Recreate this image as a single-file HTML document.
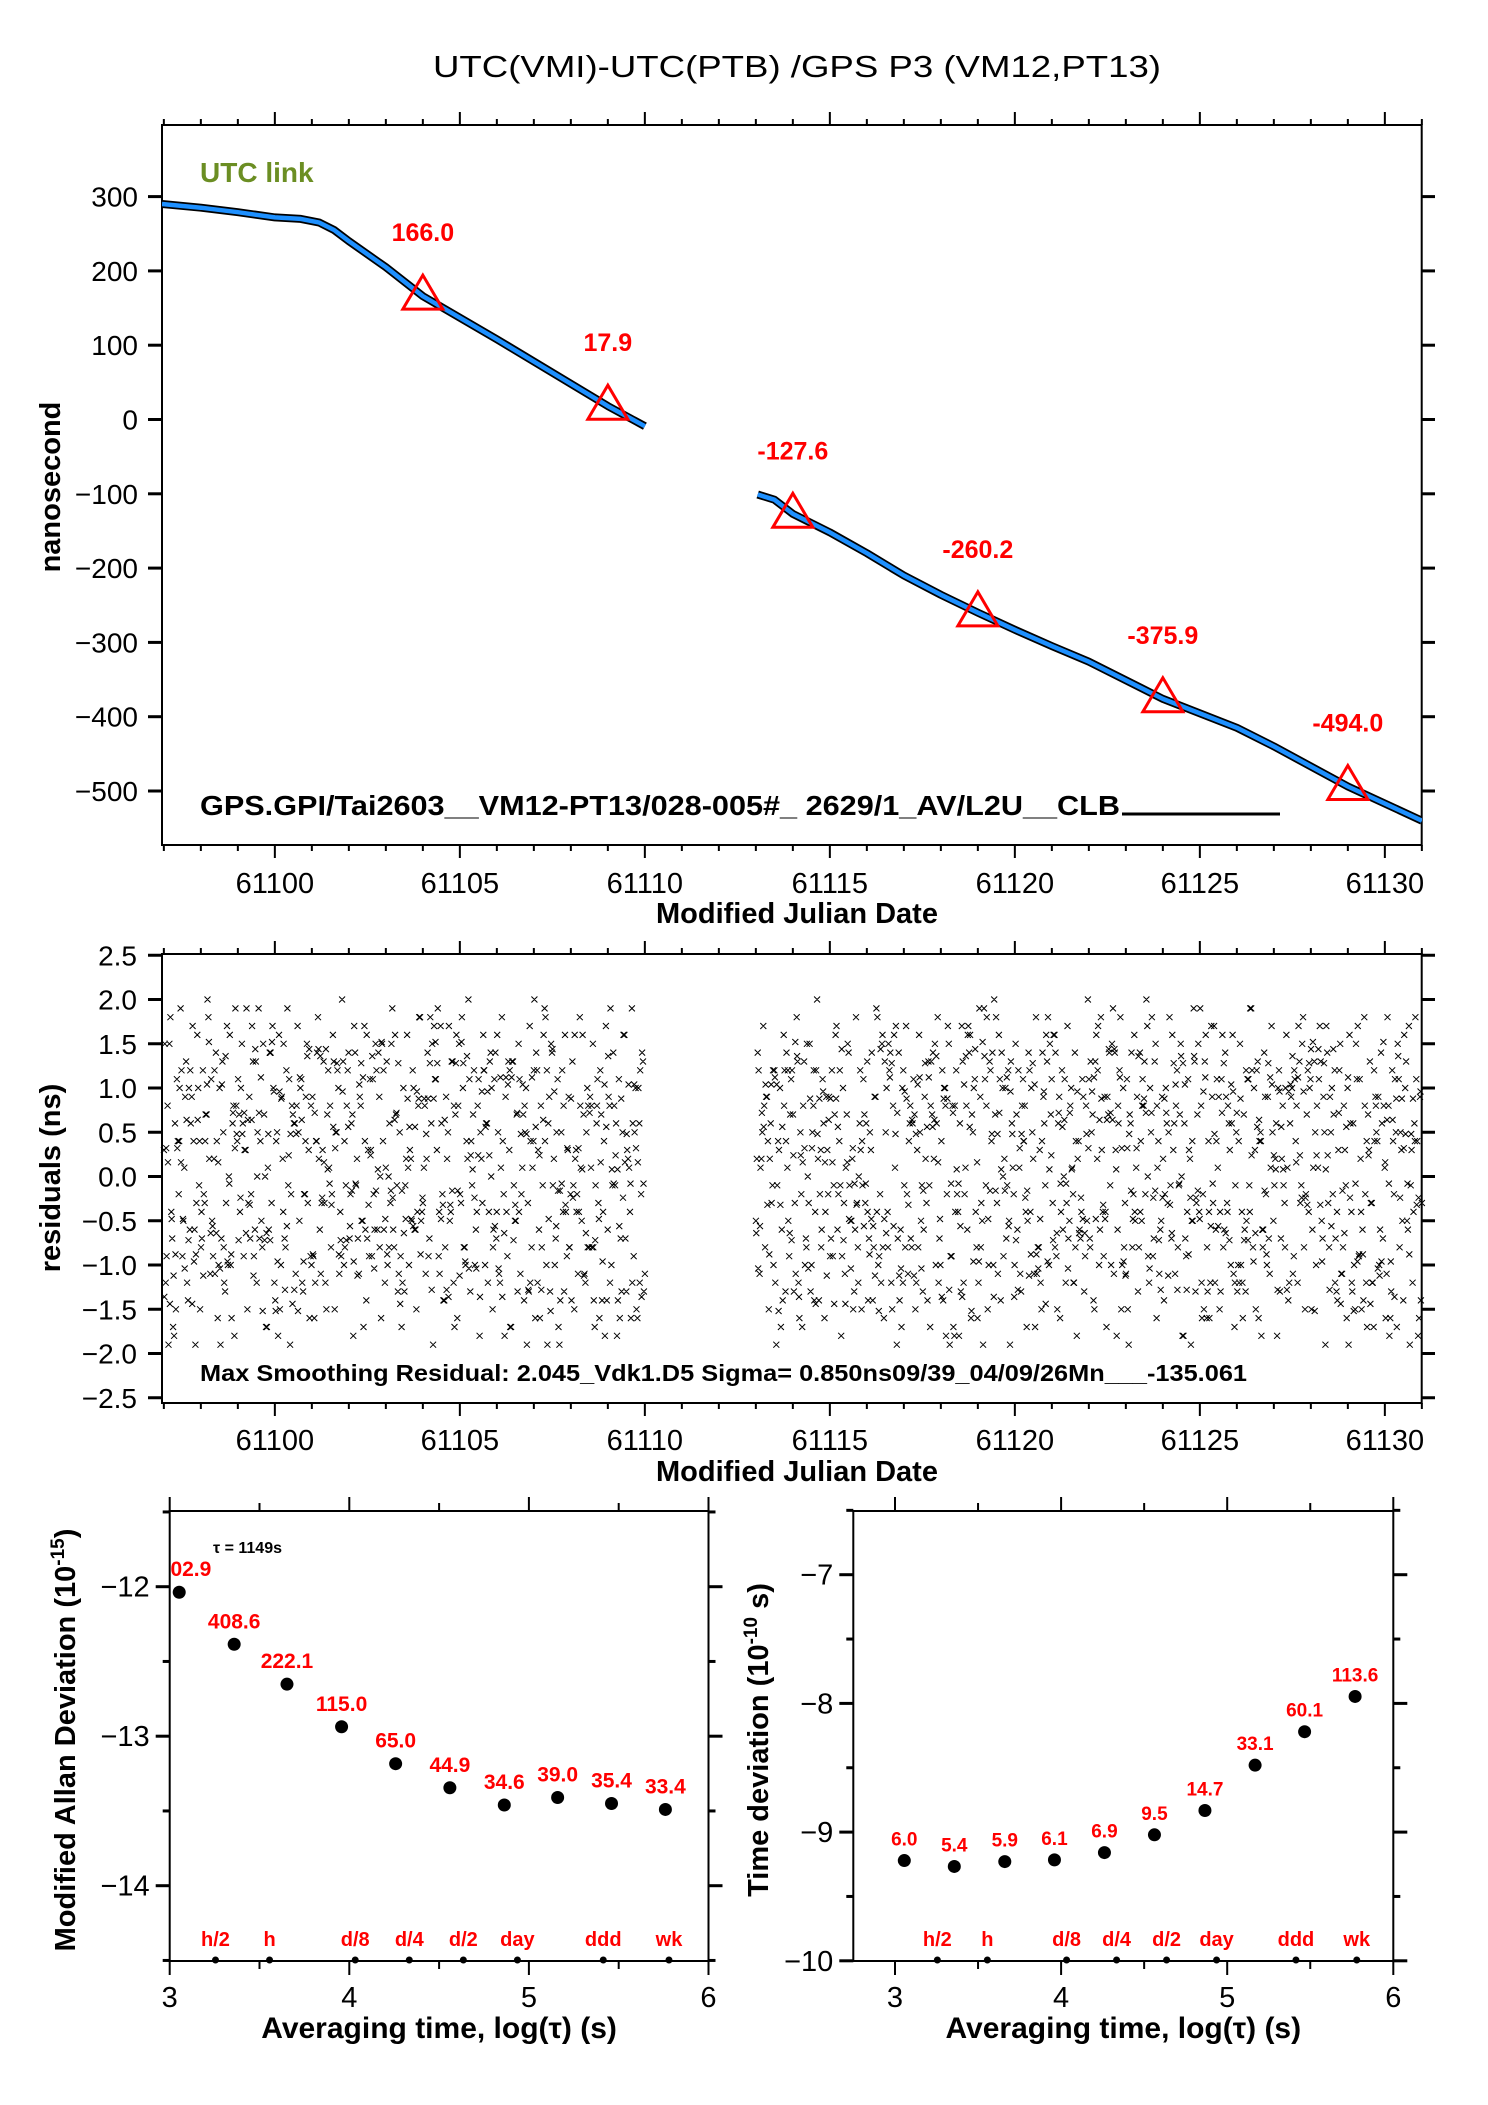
<!DOCTYPE html>
<html><head><meta charset="utf-8">
<style>
html,body{margin:0;padding:0;background:#fff;}
svg{display:block;font-family:"Liberation Sans",Arial,sans-serif;}
</style></head>
<body>
<svg id="chart" width="1488" height="2105" viewBox="0 0 1488 2105" xmlns="http://www.w3.org/2000/svg">
<defs>
<clipPath id="clipTop"><rect x="162" y="125" width="1260" height="720"/></clipPath>
<clipPath id="clipA"><rect x="170" y="1511" width="539" height="450"/></clipPath>
</defs>
<rect x="0" y="0" width="1488" height="2105" fill="#fff"/>
<text x="433" y="77" font-size="31" textLength="728" lengthAdjust="spacingAndGlyphs">UTC(VMI)-UTC(PTB)  /GPS  P3  (VM12,PT13)</text>
<g id="gTop"></g>
<g id="gMid"></g>
<g id="gA"></g>
<g id="gB"></g>
</svg>
<script>
// ---- top panel data ----
const seg1Mjd = [61096.95,61098,61099,61100,61100.7,61101.2,61101.6,61102,61103,61104,61106,61108,61109,61110];
const seg1Val = [290,285,279,272,270,265,255,240,205,166,108,48,18,-9];
const seg2Mjd = [61113.05,61113.5,61114,61115,61116,61117,61118,61119,61120,61121,61122,61124,61126,61127,61129,61131];
const seg2Val = [-101,-108,-127,-152,-180,-210,-236,-260,-283,-305,-326,-376,-415,-440,-494,-540];
const markMjd = [61104,61109,61114,61119,61124,61129];
const markVal = [166.0,17.9,-127.6,-260.2,-375.9,-494.0];
const yTicksTop = [300,200,100,0,-100,-200,-300,-400,-500];
const xTicksMjd = [61100,61105,61110,61115,61120,61125,61130];
// ---- residual data (tenths of ns) ----
const resStart1 = 61097.0, resEnd1 = 61110.0, resStart2 = 61113.0, resEnd2 = 61131.0;
const res1 = [3,-12,8,15,-4,-17,6,11,-2,19,-9,1,13,-14,-6,9,4,-19,16,-1,
-8,12,-3,7,18,-11,-5,2,14,-16,10,-7,5,-13,17,0,-10,6,-18,8,
11,-4,15,-9,3,-15,9,-2,13,-6,-12,19,4,-8,7,-17,1,14,-3,10,
-14,5,16,-10,2,-7,12,-1,-19,8,6,-11,17,-5,11,-13,-2,15,3,-9,
9,-16,4,18,-6,-3,13,-12,7,1,-8,16,-15,5,10,-4,20,-10,-1,12,
-7,6,-18,14,2,-11,8,-5,17,-14,3,11,-9,-2,15,-6,9,-16,4,-12,
13,0,-3,19,-8,7,-13,5,-17,10,-1,16,-10,2,12,-6,-15,8,18,-4,
1,-11,14,-7,6,-19,11,3,-9,17,-2,-14,9,5,-5,13,-12,7,-16,15,
-3,10,-8,4,20,-13,-1,12,-6,8,-18,2,16,-10,6,-4,14,-15,11,-7,
5,-12,18,-2,9,-9,3,-17,13,-5,7,15,-11,1,-14,10,-3,17,-8,4,
-16,12,-6,8,-1,19,-10,6,-13,14,2,-7,11,-19,5,-4,16,-9,9,-2,
13,-15,3,-11,18,-5,7,-12,10,-8,1,15,-17,6,-3,12,-14,4,17,-6,
8,-10,14,-1,-18,11,-7,5,16,-13,2,-4,19,-9,10,-16,6,-2,13,-11];
const res2 = [-5,14,-11,2,17,-8,9,-15,6,-1,12,-19,4,10,-6,16,-13,1,-9,11,
7,-3,18,-12,5,-17,13,-7,0,15,-10,8,-4,20,-14,3,11,-16,9,-2,
-9,12,-1,16,-6,4,-18,10,-11,7,14,-5,2,-13,18,-8,6,-15,11,-3,
13,-7,3,-14,9,19,-10,-2,15,-16,5,-4,12,-12,8,1,-19,14,-6,10,
-1,17,-11,6,-8,11,-15,3,16,-5,-13,9,-3,13,-17,7,2,-10,18,-7,
4,-14,10,-2,15,-9,8,-18,12,-4,6,17,-12,1,-6,14,-16,5,11,-8,
-12,9,-5,19,-1,-15,13,4,-10,7,-3,16,-14,10,2,-7,12,-19,6,-2,
15,-6,1,-13,11,8,-17,14,-4,5,-11,18,-8,3,-15,9,-1,13,-10,7,
-3,16,-9,6,-16,12,0,-12,17,-5,10,-2,14,-18,4,-7,11,-13,8,20,
-7,5,-14,13,2,-10,18,-4,9,-17,7,-1,15,-11,3,-6,12,-15,10,-3,
11,-19,6,-8,16,1,-13,14,-5,8,-2,17,-12,5,-9,13,-16,4,-6,9,
-14,10,-3,18,-7,3,-11,12,-1,15,-18,6,-9,11,2,-5,19,-13,7,-4,
8,-2,13,-16,4,-12,9,17,-6,1,-15,11,-8,14,-3,6,-10,16,-17,5,
-10,15,-4,7,-13,11,-1,19,-8,3,12,-16,5,-6,14,-2,9,-11,17,-5,
2,-18,12,-7,8,-3,16,-14,6,10,-9,4,-12,13,-1,18,-15,7,-4,11,
-6,13,-10,1,17,-5,9,-19,14,-8,5,-2,12,-13,3,15,-11,8,-1,10,
16,-4,6,-15,11,-9,2,-6,18,-12,7,13,-3,-17,9,4,-10,14,-7,1,
-11,8,-16,12,-2,5,15,-8,3,-14,10,-5,17,-1,-12,6,11,-18,9,-3];
const yTicksMid = [2.5,2.0,1.5,1.0,0.5,0.0,-0.5,-1.0,-1.5,-2.0,-2.5];
// ---- MDEV data ----
const mdevLogTau = [3.053,3.359,3.653,3.957,4.258,4.560,4.863,5.160,5.460,5.760];
const mdevVal = [-12.037,-12.385,-12.652,-12.937,-13.184,-13.345,-13.46,-13.41,-13.45,-13.49];
const mdevLbl = ["1002.9","408.6","222.1","115.0","65.0","44.9","34.6","39.0","35.4","33.4"];
const yTicksA = [-12,-13,-14];
// ---- TDEV data ----
const tdevLogTau = [3.056,3.357,3.661,3.960,4.261,4.562,4.866,5.168,5.466,5.770];
const tdevVal = [-9.221,-9.267,-9.229,-9.216,-9.159,-9.021,-8.832,-8.48,-8.22,-7.946];
const tdevLbl = ["6.0","5.4","5.9","6.1","6.9","9.5","14.7","33.1","60.1","113.6"];
const yTicksB = [-7,-8,-9,-10];
// ---- shared ----
const tauMarkLog = [3.255,3.556,4.033,4.334,4.635,4.936,5.414,5.780];
const tauMarkLbl = ["h/2","h","d/8","d/4","d/2","day","ddd","wk"];
const xTicksLog = [3,4,5,6];

const NS="http://www.w3.org/2000/svg";
function mk(parent,tag,attrs,txt){const e=document.createElementNS(NS,tag);for(const k in attrs)e.setAttribute(k,attrs[k]);if(txt!==undefined)e.textContent=txt;parent.appendChild(e);return e;}
const M="\u2212";
function fmt(v,d){const s=Math.abs(v).toFixed(d);return (v<0?M:"")+s;}

const xT=m=>162+(m-61096.95)*37;
const yT=v=>419.5-v*0.743;
const yM=v=>1176.5-v*88.5;
const xA=l=>169.7+(l-3)*179.6;
const yA=v=>1586.7-(v+12)*149.5;
const xB=l=>895+(l-3)*166.1;
const yB=v=>1574.7-(v+7)*128.7;

// ---------- TOP ----------
const gT=document.getElementById('gTop');
let r=mk(gT,'rect',{x:162,y:125,width:1259.7,height:720,fill:'none',stroke:'#000','stroke-width':2});

for(let m=61097;m<=61131;m++){
  const x=xT(m);const maj=m%5===0;const L=maj?13:6;
  let t=mk(gT,'line',{x1:x,y1:845,x2:x,y2:845+L,stroke:'#000','stroke-width':2});
  
  t=mk(gT,'line',{x1:x,y1:125,x2:x,y2:125-L,stroke:'#000','stroke-width':2});
  
}
xTicksMjd.forEach(m=>{
  const t=mk(gT,'text',{x:xT(m),y:893,'font-size':29,'text-anchor':'middle'},String(m));
  
});
yTicksTop.forEach(v=>{
  const y=yT(v);
  let t=mk(gT,'line',{x1:148,y1:y,x2:162,y2:y,stroke:'#000','stroke-width':3});
  
  t=mk(gT,'line',{x1:1421.7,y1:y,x2:1435,y2:y,stroke:'#000','stroke-width':3});
  
  t=mk(gT,'text',{x:138,y:y+10,'font-size':28,'text-anchor':'end'},fmt(v,0));
  
});
let lab=mk(gT,'text',{x:0,y:0,'font-size':29,'font-weight':'bold','text-anchor':'middle',transform:'translate(60,487) rotate(-90)'},'nanosecond');

lab=mk(gT,'text',{x:797,y:923,'font-size':29,'font-weight':'bold','text-anchor':'middle'},'Modified Julian Date');

lab=mk(gT,'text',{x:200,y:182,'font-size':28,'font-weight':'bold',fill:'#6b8e23'},'UTC link');

const gl=mk(gT,'g',{'clip-path':'url(#clipTop)'});
[[seg1Mjd,seg1Val,'series-segment-1'],[seg2Mjd,seg2Val,'series-segment-2']].forEach(([ms,vs,nm])=>{
  const pts=ms.map((m,i)=>xT(m).toFixed(1)+','+yT(vs[i]).toFixed(1)).join(' ');
  let p=mk(gl,'polyline',{points:pts,fill:'none',stroke:'#000','stroke-width':8,'stroke-linejoin':'round'});
  
  p=mk(gl,'polyline',{points:pts,fill:'none',stroke:'#1e90ff','stroke-width':4.5,'stroke-linejoin':'round'});
  
});
markMjd.forEach((m,i)=>{
  const x=xT(m),y=yT(markVal[i]);
  let p=mk(gT,'polygon',{points:`${x},${y-21} ${x-20},${y+13} ${x+20},${y+13}`,fill:'none',stroke:'#ff0000','stroke-width':3});
  
  p=mk(gT,'text',{x:x,y:y-55,'font-size':25,'font-weight':'bold',fill:'#ff0000','text-anchor':'middle'},markVal[i].toFixed(1));
  
});
lab=mk(gT,'text',{x:200,y:815,'font-size':28,'font-weight':'bold',textLength:920,lengthAdjust:'spacingAndGlyphs'},'GPS.GPI/Tai2603__VM12-PT13/028-005#_  2629/1_AV/L2U__CLB');

lab=mk(gT,'line',{x1:1122,y1:814,x2:1280,y2:814,stroke:'#000','stroke-width':3});


// ---------- MID ----------
const gM=document.getElementById('gMid');
r=mk(gM,'rect',{x:162,y:954,width:1259.7,height:449,fill:'none',stroke:'#000','stroke-width':2});

for(let m=61097;m<=61131;m++){
  const x=xT(m);const maj=m%5===0;const L=maj?13:6;
  let t=mk(gM,'line',{x1:x,y1:1403,x2:x,y2:1403+L,stroke:'#000','stroke-width':2});
  
  t=mk(gM,'line',{x1:x,y1:954,x2:x,y2:954-L,stroke:'#000','stroke-width':2});
  
}
xTicksMjd.forEach(m=>{
  const t=mk(gM,'text',{x:xT(m),y:1450,'font-size':29,'text-anchor':'middle'},String(m));
  
});
yTicksMid.forEach(v=>{
  const y=yM(v);
  let t=mk(gM,'line',{x1:148,y1:y,x2:162,y2:y,stroke:'#000','stroke-width':3});
  
  t=mk(gM,'line',{x1:1421.7,y1:y,x2:1435,y2:y,stroke:'#000','stroke-width':3});
  
  t=mk(gM,'text',{x:137,y:y+10,'font-size':28,'text-anchor':'end'},fmt(v,1));
  
});
lab=mk(gM,'text',{x:0,y:0,'font-size':29,'font-weight':'bold','text-anchor':'middle',transform:'translate(60,1178) rotate(-90)'},'residuals (ns)');

lab=mk(gM,'text',{x:797,y:1481,'font-size':29,'font-weight':'bold','text-anchor':'middle'},'Modified Julian Date');

let dpath='';
function addX(x,y){dpath+=`M${(x-3).toFixed(1)} ${(y-3).toFixed(1)}l6 6M${(x-3).toFixed(1)} ${(y+3).toFixed(1)}l6 -6`;}
[[res1,resStart1,resEnd1],[res2,resStart2,resEnd2]].forEach(([arr,s,e])=>{
  const n=arr.length;
  const step=(e-s)/(n-1);
  arr.forEach((v,i)=>{ addX(xT(s+step*i),yM(v/10)); });
  arr.forEach((v,i)=>{ if(i<n-1) addX(xT(s+step*(i+0.5)),yM(arr[(i*7+3)%n]/10)); });
  arr.forEach((v,i)=>{ if(i<n-1) addX(xT(s+step*(i+0.25)),yM(arr[(i*11+5)%n]/10*0.8)); });
});
lab=mk(gM,'path',{d:dpath,stroke:'#000','stroke-width':1,fill:'none'});

lab=mk(gM,'text',{x:200,y:1381,'font-size':23,'font-weight':'bold',textLength:1047,lengthAdjust:'spacingAndGlyphs'},'Max Smoothing Residual: 2.045_Vdk1.D5  Sigma= 0.850ns09/39_04/09/26Mn___-135.061');


// ---------- stability panels ----------
function panel(g,x0,x1,xs,ys,yMin,yMax,yTicks,vals,logs,lbls,yTitle,ytx,clip,isA){
  const top=1511,bot=1961;
  let r=mk(g,'rect',{x:x0,y:top,width:x1-x0,height:bot-top,fill:'none',stroke:'#000','stroke-width':2});
  
  for(let l=3;l<=6;l+=0.5){
    const x=xs(l);const L=(l%1===0)?14:8;
    let t=mk(g,'line',{x1:x,y1:bot,x2:x,y2:bot+L,stroke:'#000','stroke-width':2});
    
    t=mk(g,'line',{x1:x,y1:top,x2:x,y2:top-L,stroke:'#000','stroke-width':2});
    
  }
  xTicksLog.forEach(l=>{
    const t=mk(g,'text',{x:xs(l),y:2007,'font-size':29,'text-anchor':'middle'},String(l));
    
  });
  for(let v=yMin;v<=yMax+1e-6;v+=0.5){
    const y=ys(v);const maj=Math.abs(v-Math.round(v))<1e-6;const L=maj?14:7;
    let t=mk(g,'line',{x1:x0-L,y1:y,x2:x0,y2:y,stroke:'#000','stroke-width':3});
    
    t=mk(g,'line',{x1:x1,y1:y,x2:x1+L,y2:y,stroke:'#000','stroke-width':3});
    
  }
  yTicks.forEach(v=>{
    const t=mk(g,'text',{x:x0-20,y:ys(v)+10,'font-size':29,'text-anchor':'end'},fmt(v,0));
    
  });
  let lab=mk(g,'text',{x:0,y:0,'font-size':29,'font-weight':'bold','text-anchor':'middle',transform:`translate(${ytx},1740) rotate(-90)`});
  lab.innerHTML=yTitle;
  
  lab=mk(g,'text',{x:(x0+x1)/2,y:2038,'font-size':30,'font-weight':'bold','text-anchor':'middle'},'Averaging time, log(\u03c4) (s)');
  
  const gc=mk(g,'g',clip?{'clip-path':clip}:{});
  logs.forEach((l,i)=>{
    const x=xs(l),y=ys(vals[i]);
    let c=mk(gc,'circle',{cx:x,cy:y,r:6.5,fill:'#000'});
    
    c=mk(gc,'text',{x:x,y:y-(isA?16:15),'font-size':isA?21:19,'font-weight':'bold',fill:'#ff0000','text-anchor':'middle'},lbls[i]);
    
  });
  tauMarkLog.forEach((l,i)=>{
    const x=xs(l);
    let c=mk(g,'circle',{cx:x,cy:bot-1,r:3.5,fill:'#000'});
    
    c=mk(g,'text',{x:x,y:1946,'font-size':20,'font-weight':'bold',fill:'#ff0000','text-anchor':'middle'},tauMarkLbl[i]);
    
  });
}
const gA=document.getElementById('gA');
panel(gA,169.7,708.5,xA,yA,-14.5,-11.5,yTicksA,mdevVal,mdevLogTau,mdevLbl,'Modified Allan Deviation (10<tspan dy="-11" font-size="19">-15</tspan><tspan dy="11">)</tspan>',75,'url(#clipA)',true);
let tl=mk(gA,'text',{x:213,y:1553,'font-size':16,'font-weight':'bold'},'\u03c4 = 1149s');

const gB=document.getElementById('gB');
panel(gB,853.3,1393.3,xB,yB,-10,-6.5,yTicksB,tdevVal,tdevLogTau,tdevLbl,'Time deviation (10<tspan dy="-11" font-size="19">-10</tspan><tspan dy="11"> s)</tspan>',768,null,false);
</script>
</body></html>
